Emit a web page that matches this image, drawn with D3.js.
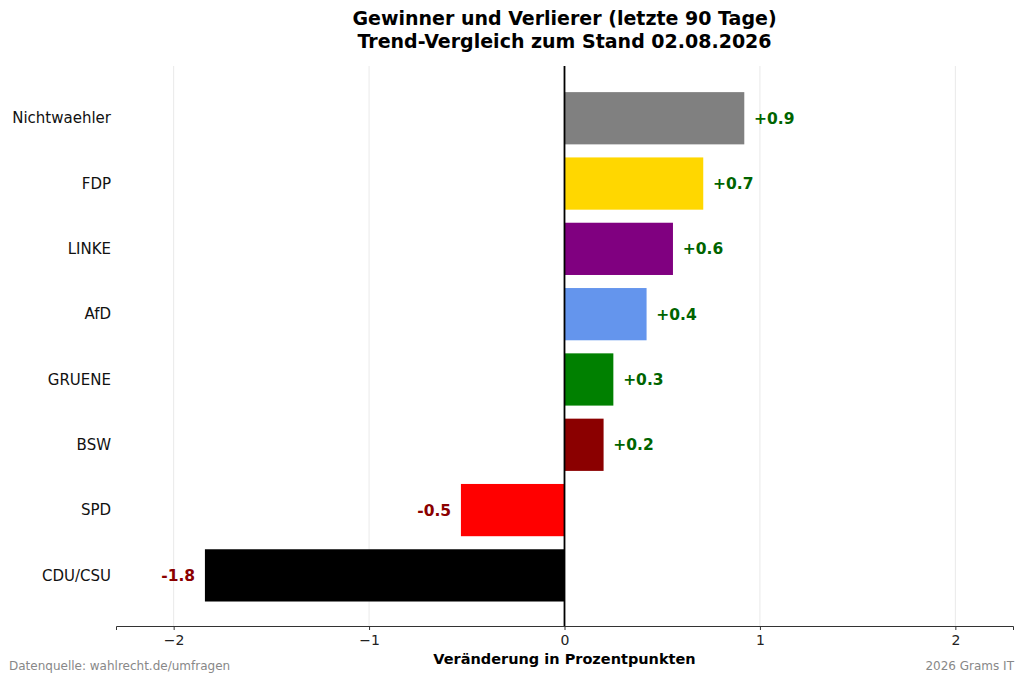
<!DOCTYPE html>
<html>
<head>
<meta charset="utf-8">
<script src="https://cdn.jsdelivr.net/npm/d3@7"></script>
<style>
  body { margin: 0; background: #fff; }
  svg { font-family: "DejaVu Sans", sans-serif; }
  .value_labels { font-size: 15.5px; font-weight: bold; }
  .footer { font-size: 12px; fill: #888; }
</style>
</head>
<body>
<svg id="chart" width="1024" height="682"></svg>
<script>
// parties from top to bottom, change in percentage points
var parties = ["Nichtwaehler", "FDP", "LINKE", "AfD", "GRUENE", "BSW", "SPD", "CDU/CSU"];
var changes = [0.92, 0.71, 0.555, 0.42, 0.25, 0.2, -0.53, -1.84];
var barColors = ["#808080", "#FFD700", "#800080", "#6495ED", "#008000", "#8B0000", "#FF0000", "#000000"];
var xTicks = [-2, -1, 0, 1, 2];

var svg = d3.select("#chart");
var plotLeft = 116, plotRight = 1013, plotTop = 66, plotBottom = 626;

var xScale = d3.scaleLinear()
               .domain([-2.295, 2.295])
               .range([plotLeft, plotRight]);
// matplotlib-like band layout: index 0 at bottom, bar height 0.8, margins around
var n = parties.length;
var yScale = d3.scaleLinear()
               .domain([-0.775, n - 1 + 0.8])
               .range([plotBottom, plotTop]);
function yPos(i) { return yScale(n - 1 - i); }
var barH = yScale(0) - yScale(0.8);

// vertical grid lines
svg.selectAll("grid_lines")
    .data(xTicks)
    .enter()
    .append("line")
    .attr("x1", function(d) { return xScale(d); })
    .attr("x2", function(d) { return xScale(d); })
    .attr("y1", plotTop)
    .attr("y2", plotBottom)
    .style("stroke", "#e3e3e3")
    .style("stroke-width", 0.8);

// bars
svg.selectAll("bars")
    .data(changes)
    .enter()
    .append("rect")
    .attr("x", function(d) { return xScale(Math.min(0, d)); })
    .attr("width", function(d) { return Math.abs(xScale(d) - xScale(0)); })
    .attr("y", function(d, i) { return yPos(i) - barH / 2; })
    .attr("height", barH)
    .style("fill", function(d, i) { return barColors[i]; });

// zero line
svg.append("line")
    .attr("x1", xScale(0))
    .attr("x2", xScale(0))
    .attr("y1", plotTop)
    .attr("y2", plotBottom)
    .style("stroke", "#000")
    .style("stroke-width", 1.8);

// value labels
svg.selectAll("value_labels")
    .data(changes)
    .enter()
    .append("text")
    .attr("class", "value_labels")
    .attr("x", function(d) { return d >= 0 ? xScale(d + 0.05) : xScale(d - 0.05); })
    .attr("y", function(d, i) { return yPos(i); })
    .attr("dy", "0.35em")
    .style("text-anchor", function(d) { return d >= 0 ? "start" : "end"; })
    .style("fill", function(d) { return d >= 0 ? "#006400" : "#8B0000"; })
    .text(function(d) {
      return (d >= 0 ? "+" : "-") + Math.abs(d).toFixed(1);
    });

// category labels
svg.selectAll("party_labels")
    .data(parties)
    .enter()
    .append("text")
    .attr("x", plotLeft - 5)
    .attr("y", function(d, i) { return yPos(i); })
    .attr("dy", "0.35em")
    .style("text-anchor", "end")
    .style("font-size", "15px")
    .style("fill", "#111")
    .text(function(d) { return d; });

// x axis
var xAxis = svg.append("g")
    .attr("transform", "translate(0," + plotBottom + ")")
    .call(d3.axisBottom(xScale)
            .tickValues(xTicks)
            .tickSize(4)
            .tickPadding(5)
            .tickFormat(function(d) { return d < 0 ? "\u2212" + Math.abs(d) : d; }));
xAxis.select(".domain").style("stroke", "#333").style("stroke-width", 1);
xAxis.selectAll(".tick line").style("stroke", "#333");
xAxis.selectAll(".tick text").style("font-size", "14px").style("fill", "#222")
    .style("font-family", "DejaVu Sans, sans-serif");

svg.append("text")
    .attr("x", xScale(0))
    .attr("y", 664)
    .style("text-anchor", "middle")
    .style("font-size", "14.5px")
    .style("font-weight", "bold")
    .text("Veränderung in Prozentpunkten");

// title
svg.append("text")
    .attr("x", xScale(0))
    .attr("y", 25)
    .style("text-anchor", "middle")
    .style("font-size", "19px")
    .style("font-weight", "bold")
    .text("Gewinner und Verlierer (letzte 90 Tage)");
svg.append("text")
    .attr("x", xScale(0))
    .attr("y", 48)
    .style("text-anchor", "middle")
    .style("font-size", "19px")
    .style("font-weight", "bold")
    .text("Trend-Vergleich zum Stand 02.08.2026");

// footer
svg.append("text")
    .attr("class", "footer")
    .attr("x", 9)
    .attr("y", 670)
    .text("Datenquelle: wahlrecht.de/umfragen");
svg.append("text")
    .attr("class", "footer")
    .attr("x", 1014)
    .attr("y", 670)
    .style("text-anchor", "end")
    .text("2026 Grams IT");
</script>
</body>
</html>
